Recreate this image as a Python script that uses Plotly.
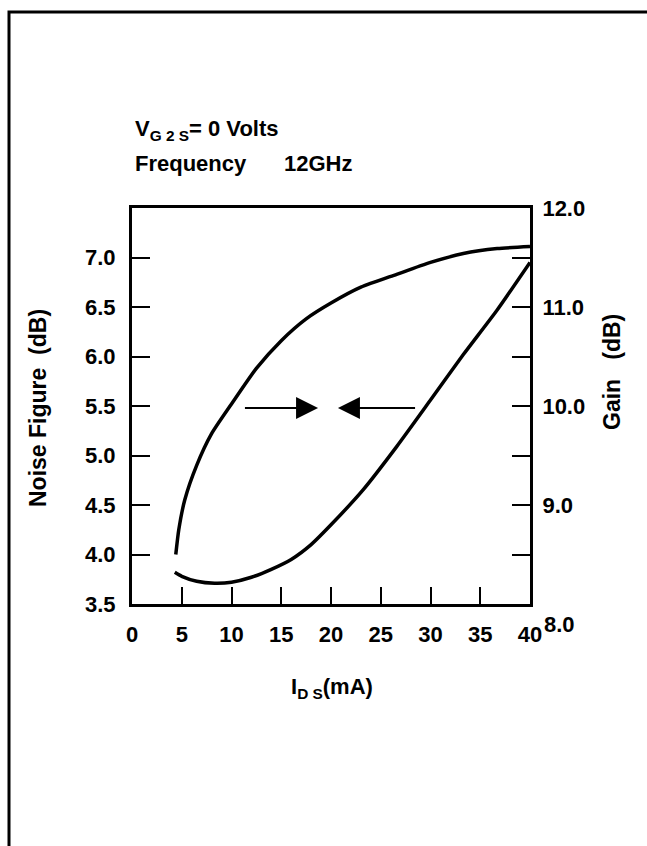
import plotly.graph_objects as go

# ---- data ----
ids_nf = [4.3, 5.0, 6.5, 8.3, 10.0, 12.0, 14.0, 16.0, 18.0, 20.0, 23.2, 26.6, 30.0, 33.3, 36.7, 40.0]
noise_figure = [3.82, 3.78, 3.73, 3.71, 3.72, 3.77, 3.85, 3.95, 4.10, 4.30, 4.65, 5.09, 5.56, 6.02, 6.47, 6.95]

ids_gain = [4.4, 4.7, 5.3, 6.5, 8.0, 10.0, 12.5, 15.0, 17.5, 20.0, 23.0, 26.6, 30.0, 33.3, 36.7, 40.0]
gain = [8.50, 8.75, 9.05, 9.40, 9.72, 10.02, 10.38, 10.66, 10.88, 11.04, 11.20, 11.33, 11.45, 11.54, 11.59, 11.61]

x_ticks = [0, 5, 10, 15, 20, 25, 30, 35, 40]
nf_ticks = [3.5, 4.0, 4.5, 5.0, 5.5, 6.0, 6.5, 7.0]
gain_ticks = [8.0, 8.5, 9.0, 9.5, 10.0, 10.5, 11.0, 11.5, 12.0]
gain_labels = ["", "", "9.0", "", "10.0", "", "11.0", "", "12.0"]

# arrows (data coordinates): (tail x, head x, y on NF axis)
arrow_right = (11.2, 18.7, 5.48)
arrow_left = (28.6, 20.7, 5.48)

W, H = 647, 846
L, R, T, B = 132, 530, 208, 604  # plot area in pixels

def px(xp):
    return (xp - L) / (R - L)

def py(yp):
    return (B - yp) / (B - T)

FONT = "Liberation Sans, Arial, Helvetica, sans-serif"
fnt = dict(family=FONT, size=22, color="black", weight="bold")
title_fnt = dict(family=FONT, size=23, color="black", weight="bold")
sp = "\u00a0"

fig = go.Figure()
fig.add_trace(go.Scatter(x=ids_nf, y=noise_figure, mode="lines",
                         line=dict(color="black", width=3.5, shape="spline", smoothing=0.6),
                         yaxis="y", showlegend=False, hoverinfo="skip"))
fig.add_trace(go.Scatter(x=ids_gain, y=gain, mode="lines",
                         line=dict(color="black", width=3.5, shape="spline", smoothing=0.6),
                         yaxis="y2", showlegend=False, hoverinfo="skip"))

fig.update_layout(
    width=W, height=H,
    margin=dict(l=L, r=W - R, t=T, b=H - B, pad=0),
    paper_bgcolor="white", plot_bgcolor="white",
    font=fnt,
    xaxis=dict(range=[0, 40], tickvals=x_ticks, ticktext=[str(v) for v in x_ticks],
               ticks="inside", ticklen=17, tickwidth=2, tickcolor="black",
               showline=True, linecolor="black", linewidth=3, mirror=True,
               showgrid=False, zeroline=False, tickfont=fnt, ticklabelstandoff=9),
    yaxis=dict(range=[3.5, 7.5], tickvals=nf_ticks, ticktext=[f"{v:.1f}" for v in nf_ticks],
               ticks="inside", ticklen=18, tickwidth=2, tickcolor="black",
               showline=True, linecolor="black", linewidth=3,
               showgrid=False, zeroline=False, tickfont=fnt, ticklabelstandoff=9),
    yaxis2=dict(range=[8, 12], overlaying="y", side="right", tickvals=gain_ticks, ticktext=gain_labels,
                ticks="inside", ticklen=18, tickwidth=2, tickcolor="black",
                showline=True, linecolor="black", linewidth=3,
                showgrid=False, zeroline=False, tickfont=fnt, ticklabelstandoff=5),
)

annotations = [
    dict(x=px(133), y=py(130), xref="paper", yref="paper", xanchor="left", yanchor="middle",
         text="V<sub>G 2 S</sub>= 0 Volts", showarrow=False, font=fnt),
    dict(x=px(133), y=py(163), xref="paper", yref="paper", xanchor="left", yanchor="middle",
         text="Frequency", showarrow=False, font=fnt),
    dict(x=px(282), y=py(163), xref="paper", yref="paper", xanchor="left", yanchor="middle",
         text="12GHz", showarrow=False, font=fnt),
    dict(x=px(38), y=py(408), xref="paper", yref="paper", xanchor="center", yanchor="middle",
         text="Noise Figure" + sp * 2 + "(dB)", textangle=-90, showarrow=False, font=title_fnt),
    dict(x=px(612), y=py(372), xref="paper", yref="paper", xanchor="center", yanchor="middle",
         text="Gain" + sp * 3 + "(dB)", textangle=-90, showarrow=False, font=title_fnt),
    dict(x=px(332), y=py(688), xref="paper", yref="paper", xanchor="center", yanchor="middle",
         text="I<sub>D S</sub>(mA)", showarrow=False, font=fnt),
    dict(x=px(542), y=py(624), xref="paper", yref="paper", xanchor="left", yanchor="middle",
         text="8.0", showarrow=False, font=fnt),
]
for tail, head, yv in (arrow_right, arrow_left):
    annotations.append(dict(x=head, y=yv, ax=tail, ay=yv, xref="x", yref="y", axref="x", ayref="y",
                            text="", showarrow=True, arrowhead=2, arrowsize=2.2, arrowwidth=2,
                            arrowcolor="black", standoff=0))
fig.update_layout(annotations=annotations)

# outer frame of the scanned page: only its top and left edges fall inside the picture
fig.add_shape(type="rect", xref="paper", yref="paper", x0=px(9), x1=px(720), y0=py(12), y1=py(920),
              line=dict(color="black", width=3), fillcolor="rgba(0,0,0,0)", layer="below")

fig.write_html("out.html", config={"displayModeBar": False})
